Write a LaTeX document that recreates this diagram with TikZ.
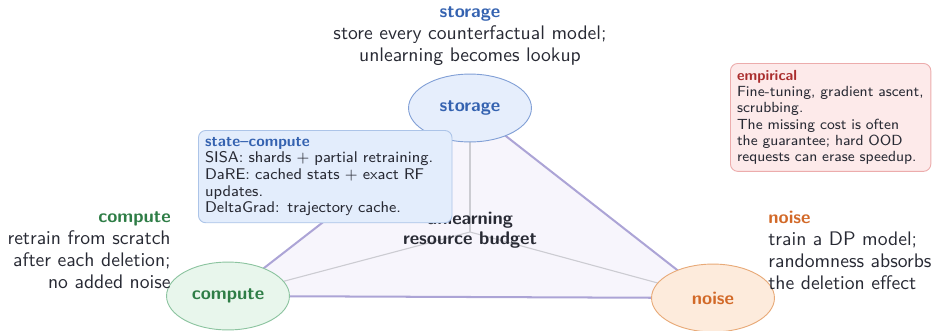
\documentclass[tikz,border=0pt]{standalone}
\usepackage{fontspec}
\usetikzlibrary{shapes.geometric}

% palette
\definecolor{inkT}{RGB}{40,42,52}
\definecolor{blueT}{RGB}{52,98,176}
\definecolor{blueF}{RGB}{230,238,252}
\definecolor{blueD}{RGB}{130,160,214}
\definecolor{boxF}{RGB}{227,237,252}
\definecolor{boxD}{RGB}{172,196,232}
\definecolor{greenT}{RGB}{46,125,70}
\definecolor{greenF}{RGB}{232,246,236}
\definecolor{greenD}{RGB}{140,196,160}
\definecolor{orangeT}{RGB}{210,105,40}
\definecolor{orangeF}{RGB}{253,235,220}
\definecolor{orangeD}{RGB}{232,170,120}
\definecolor{redT}{RGB}{170,45,45}
\definecolor{redF}{RGB}{253,234,234}
\definecolor{redD}{RGB}{236,172,172}
\definecolor{triD}{RGB}{172,164,214}
\definecolor{triF}{RGB}{247,245,252}
\definecolor{spoke}{RGB}{204,204,210}

% heading inside a description
\newcommand{\headtxt}[2]{{\fontsize{10}{12}\selectfont\bfseries\textcolor{#1}{#2}}}

\tikzset{
  corner/.style={ellipse, draw, line width=0.5pt, minimum width=67pt,
    minimum height=37pt, inner sep=0pt, font=\sffamily\bfseries},
  sidelabel/.style={font=\sffamily\fontsize{10.7}{12}\selectfont, text=inkT, inner sep=0pt},
  notebox/.style={draw, rounded corners=4pt, line width=0.5pt, anchor=north west,
    inner xsep=3.6pt, inner ysep=3.6pt, align=left, text=inkT,
    font=\sffamily\fontsize{8.45}{9.1}\selectfont},
  edge/.style={draw=triD, line width=1.1pt},
  spokeline/.style={draw=spoke, line width=0.6pt},
}

\begin{document}
\begin{tikzpicture}[x=0.545pt, y=-0.545pt]
\useasboundingbox (0,0) rectangle (934,330);

% corners of the budget triangle
\coordinate (S) at (470,108);
\coordinate (C) at (228,296);
\coordinate (N) at (713,298);
\coordinate (G) at (470,232);

% triangle and spokes
\fill[triF] (S) -- (C) -- (N) -- cycle;
\draw[spokeline] (G) -- (S);
\draw[spokeline] (G) -- (C);
\draw[spokeline] (G) -- (N);
\draw[edge] (S) -- (C);
\draw[edge] (C) -- (N);
\draw[edge] (N) -- (S);

% centre label
\node[font=\sffamily\bfseries, text=inkT, align=center, inner sep=0pt]
  (centre) at (470,230) {unlearning\\[-1.5pt]resource budget};

% corner ellipses
\node[corner, draw=blueD, fill=blueF, text=blueT] (storage) at (S) {storage};
\node[corner, draw=greenD, fill=greenF, text=greenT] (compute) at (C) {compute};
\node[corner, draw=orangeD, fill=orangeF, text=orangeT] (noise) at (N) {noise};

% side descriptions
\node[sidelabel, align=center] (storagetxt) at (470,36)
  {\headtxt{blueT}{storage}\\store every counterfactual model;\\unlearning becomes lookup};
\node[sidelabel, align=right, anchor=east] (computetxt) at (171,250)
  {\headtxt{greenT}{compute}\\retrain from scratch\\after each deletion;\\no added noise};
\node[sidelabel, align=left, anchor=west] (noisetxt) at (768,250)
  {\headtxt{orangeT}{noise}\\train a DP model;\\randomness absorbs\\the deletion effect};

% note boxes
\node[notebox, draw=boxD, fill=boxF, text width=131pt] (statebox) at (198,130)
  {\textcolor{blueT}{\bfseries state--compute}\\
   SISA: shards + partial retraining.\\
   DaRE: cached stats + exact RF\\
   updates.\\
   DeltaGrad: trajectory cache.};
\node[notebox, draw=redD, fill=redF, text width=102pt,
      font=\sffamily\fontsize{8}{8.9}\selectfont] (empbox) at (730,63)
  {\textcolor{redT}{\bfseries empirical}\\
   \mbox{Fine-tuning, gradient ascent,}\\
   scrubbing.\\
   The missing cost is often\\
   the guarantee; hard OOD\\
   \mbox{requests can erase speedup.}};
\end{tikzpicture}
\end{document}
